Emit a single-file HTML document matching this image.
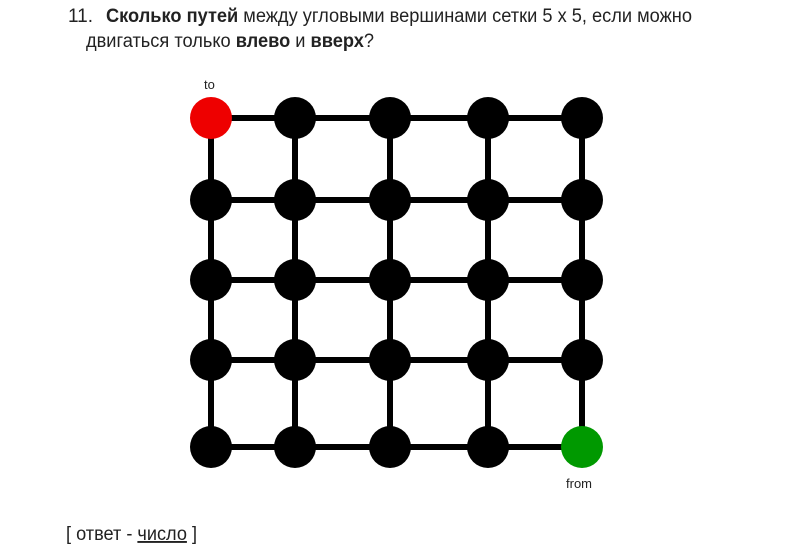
<!DOCTYPE html>
<html><head><meta charset="utf-8"><style>
body{margin:0;background:#fff;}
svg{display:block}
text{font-family:"Liberation Sans Narrow","Liberation Sans","DejaVu Sans",sans-serif;fill:#222}
</style></head><body>
<svg width="790" height="560">
<text x="68" y="22" font-size="19">11.</text>
<text x="106" y="22" font-size="19" textLength="586" lengthAdjust="spacingAndGlyphs"><tspan font-weight="bold">Сколько путей</tspan> между угловыми вершинами сетки 5 х 5, если можно</text>
<text x="86" y="47" font-size="19" textLength="288" lengthAdjust="spacingAndGlyphs">двигаться только <tspan font-weight="bold">влево</tspan> и <tspan font-weight="bold">вверх</tspan>?</text>
<g id="grid"></g>
<text x="204" y="89" font-size="13" fill="#333">to</text>
<text x="566" y="488" font-size="13" fill="#333">from</text>
<text x="66" y="540" font-size="19" textLength="131" lengthAdjust="spacingAndGlyphs">[ ответ - <tspan text-decoration="underline">число</tspan> ]</text>
</svg>
<script>
const xs=[211,295,390,488,582];
const ys=[118,200,280,360,447];
const g=document.getElementById('grid');
const NS='http://www.w3.org/2000/svg';
function line(x1,y1,x2,y2){const l=document.createElementNS(NS,'line');
l.setAttribute('x1',x1);l.setAttribute('y1',y1);l.setAttribute('x2',x2);l.setAttribute('y2',y2);
l.setAttribute('stroke','#000');l.setAttribute('stroke-width','6');


g.appendChild(l);}
ys.forEach(y=>line(xs[0],y,xs[4],y));
xs.forEach(x=>line(x,ys[0],x,ys[4]));
ys.forEach((y,r)=>xs.forEach((x,c)=>{const ci=document.createElementNS(NS,'circle');
ci.setAttribute('cx',x);ci.setAttribute('cy',y);ci.setAttribute('r',21);
let f='#000';if(r==0&&c==0)f='#ee0000';if(r==4&&c==4)f='#009900';
ci.setAttribute('fill',f);


g.appendChild(ci);}));
</script>
</body></html>
